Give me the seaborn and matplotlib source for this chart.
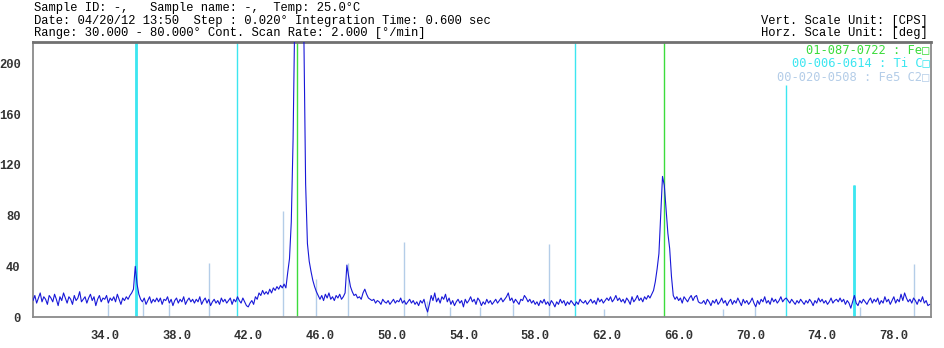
import matplotlib
matplotlib.use("Agg")
import matplotlib.pyplot as plt
import numpy as np
import pandas as pd
import seaborn as sns
from matplotlib.ticker import FixedLocator, MultipleLocator, FormatStrFormatter

# ---------------------------------------------------------------
# Scan data (2-theta 30..80 deg, read every 0.1 deg from the pattern)
# ---------------------------------------------------------------
scan_start, scan_step = 30.0, 0.1

intensity = [
    13, 17, 11, 15, 19, 12, 16, 14, 10, 17,   # 30
    15, 12, 18, 14, 9, 16, 13, 19, 15, 11,    # 31
    16, 14, 10, 17, 13, 15, 20, 12, 14, 16,   # 32
    11, 15, 18, 13, 16, 9, 14, 17, 12, 15,    # 33
    14, 17, 11, 15, 13, 16, 12, 18, 14, 10,   # 34
    15, 13, 16, 14, 17, 19, 22, 40, 26, 18,   # 35
    14, 12, 15, 10, 13, 16, 11, 14, 12, 15,   # 36
    12, 15, 10, 14, 13, 16, 11, 14, 9, 13,    # 37
    15, 11, 14, 12, 16, 10, 13, 15, 12, 14,   # 38
    11, 14, 12, 16, 10, 13, 15, 11, 14, 9,    # 39
    12, 14, 11, 13, 10, 15, 12, 14, 11, 13,   # 40
    15, 10, 14, 12, 16, 13, 11, 15, 12, 9,    # 41
    8, 11, 13, 10, 16, 14, 19, 17, 21, 18,    # 42
    20, 18, 22, 19, 23, 21, 24, 22, 25, 23,   # 43
    26, 23, 35, 46, 75, 140, 240, 400, 430, 390,  # 44
    310, 225, 105, 58, 44, 36, 29, 24, 20, 17,    # 45
    14, 17, 13, 18, 15, 19, 14, 16, 13, 17,   # 46
    15, 18, 14, 16, 19, 41, 32, 24, 20, 17,   # 47
    18, 15, 16, 14, 19, 22, 18, 15, 14, 13,   # 48
    14, 11, 13, 12, 10, 14, 12, 11, 13, 10,   # 49
    12, 14, 11, 13, 12, 15, 11, 13, 10, 12,   # 50
    14, 11, 13, 10, 12, 9, 13, 11, 14, 8,     # 51
    4, 10, 17, 13, 19, 12, 15, 11, 16, 14,    # 52
    18, 12, 15, 10, 13, 9, 12, 14, 11, 13,    # 53
    8, 14, 11, 13, 16, 12, 14, 10, 15, 13,    # 54
    9, 12, 10, 14, 11, 13, 10, 12, 14, 11,    # 55
    13, 15, 12, 14, 16, 19, 13, 15, 11, 14,   # 56
    12, 10, 14, 13, 17, 15, 12, 14, 11, 13,   # 57
    10, 12, 9, 13, 11, 14, 10, 12, 9, 13,     # 58
    11, 8, 12, 10, 14, 11, 13, 9, 12, 10,     # 59
    13, 11, 9, 12, 10, 14, 12, 11, 13, 10,    # 60
    12, 14, 11, 13, 10, 15, 12, 14, 11, 13,   # 61
    15, 13, 16, 12, 14, 17, 13, 15, 12, 14,   # 62
    11, 15, 13, 10, 16, 12, 14, 17, 13, 15,   # 63
    12, 16, 14, 17, 15, 18, 21, 28, 38, 50,   # 64
    80, 111, 104, 85, 66, 54, 32, 17, 14, 16, # 65
    13, 15, 11, 16, 14, 12, 15, 17, 13, 16,   # 66
    17, 12, 11, 11, 13, 10, 14, 12, 9, 13,    # 67
    11, 14, 10, 12, 15, 11, 13, 9, 12, 14,    # 68
    10, 13, 11, 15, 12, 9, 14, 11, 13, 10,    # 69
    12, 15, 11, 8, 13, 10, 14, 12, 16, 11,    # 70
    13, 10, 15, 12, 14, 11, 13, 16, 12, 14,   # 71
    15, 13, 11, 14, 12, 10, 13, 11, 14, 12,   # 72
    10, 13, 11, 14, 12, 9, 13, 11, 15, 12,    # 73
    14, 11, 13, 10, 12, 15, 11, 13, 14, 12,   # 74
    15, 12, 14, 10, 13, 11, 7, 12, 17, 11,    # 75
    9, 13, 11, 14, 12, 10, 13, 15, 11, 14,    # 76
    12, 15, 10, 13, 11, 16, 12, 14, 10, 13,   # 77
    16, 11, 14, 12, 18, 13, 19, 15, 12, 14,   # 78
    11, 15, 13, 10, 14, 12, 16, 11, 13, 9,    # 79
    10,                                        # 80
]
two_theta = np.round(scan_start + scan_step * np.arange(len(intensity)), 2)

# reference cards (peak position, stick height in CPS; 999 = full height)
fe_pos = [44.71, 65.18]
fe_h = [999, 999]
tic_pos = [35.73, 41.36, 60.21, 71.98, 75.77]
tic_h = [999, 999, 999, 183, 104]
fe5c2_pos = [34.17, 36.12, 37.57, 39.80, 43.93, 45.77, 47.55, 50.67, 51.96,
             53.24, 54.91, 56.75, 58.76, 61.83, 68.47, 70.25, 76.11, 79.12]
fe5c2_h = [10, 12, 10, 43, 84, 30, 43, 59, 13,
           8, 8, 10, 58, 6, 6, 8, 8, 42]

card_labels = ["01-087-0722 : Fe\u25a1", "00-006-0614 : Ti C\u25a1",
               "00-020-0508 : Fe5 C2\u25a1"]

header_left = [
    "Sample ID: -,   Sample name: -,  Temp: 25.0°C",
    "Date: 04/20/12 13:50  Step : 0.020° Integration Time: 0.600 sec",
    "Range: 30.000 - 80.000° Cont. Scan Rate: 2.000 [°/min]",
]
header_right = ["Vert. Scale Unit: [CPS]", "Horz. Scale Unit: [deg]"]

df = pd.DataFrame({"two_theta": two_theta, "cps": intensity})

# ---------------------------------------------------------------
# Plot
# ---------------------------------------------------------------
sns.set_style("white")
plt.rcParams["font.family"] = ["Liberation Mono", "DejaVu Sans Mono", "DejaVu Sans"]

fig = plt.figure(figsize=(9.44, 3.48), dpi=100)
ax = fig.add_axes([0.035, 0.089, 0.951, 0.790])

green = "#3cdc3c"
cyan = "#3ce6f0"
pale = "#b4cde8"

ax.vlines(fe5c2_pos, 0, fe5c2_h, color=pale, lw=1.0, zorder=1)
ax.vlines(tic_pos, 0, tic_h, color=cyan, lw=1.0, zorder=1)
# the two strongest Ti C sticks are drawn wider in the original
ax.vlines([tic_pos[0], tic_pos[4]], 0, [tic_h[0], tic_h[4]], color=cyan, lw=2.0, zorder=1)
ax.vlines(fe_pos, 0, fe_h, color=green, lw=1.0, zorder=1)

sns.lineplot(data=df, x="two_theta", y="cps", ax=ax, color="#1818d8",
             lw=0.8, estimator=None, sort=False, zorder=3)

ax.set_xlim(30, 80.06)
ax.set_ylim(0, 217)
ax.set_xlabel("")
ax.set_ylabel("")

ax.xaxis.set_major_locator(FixedLocator(np.arange(34, 80, 4)))
ax.xaxis.set_minor_locator(MultipleLocator(2))
ax.xaxis.set_major_formatter(FormatStrFormatter("%.1f"))
ax.yaxis.set_major_locator(MultipleLocator(40))
ax.yaxis.set_minor_locator(MultipleLocator(20))

ax.tick_params(axis="both", which="major", direction="out", length=7, width=1,
               color="#555555", labelsize=8.7, labelcolor="#333333", pad=2)
ax.tick_params(axis="both", which="minor", direction="out", length=3.5, width=1,
               color="#555555")
for lab in ax.get_xticklabels() + ax.get_yticklabels():
    lab.set_fontweight("bold")

for side in ["left", "bottom", "right"]:
    ax.spines[side].set_color("#8a8a8a")
    ax.spines[side].set_linewidth(1.3)
ax.spines["top"].set_color("#707070")
ax.spines["top"].set_linewidth(2)

# card legend, top right inside the axes
for i, (txt, col) in enumerate(zip(card_labels, [green, cyan, pale])):
    ax.text(0.9985, 0.974 - i * 0.05, txt, transform=ax.transAxes, ha="right",
            va="center", fontsize=8.7, color=col,
            family=["DejaVu Sans Mono", "DejaVu Sans"])

# instrument header
for i, txt in enumerate(header_left):
    fig.text(0.036, 0.977 - i * 0.036, txt, ha="left", va="center",
             fontsize=8.7, color="black")
for i, txt in enumerate(header_right):
    fig.text(0.983, 0.941 - i * 0.036, txt, ha="right", va="center",
             fontsize=8.7, color="black")

fig.savefig("out.png", dpi=100)
